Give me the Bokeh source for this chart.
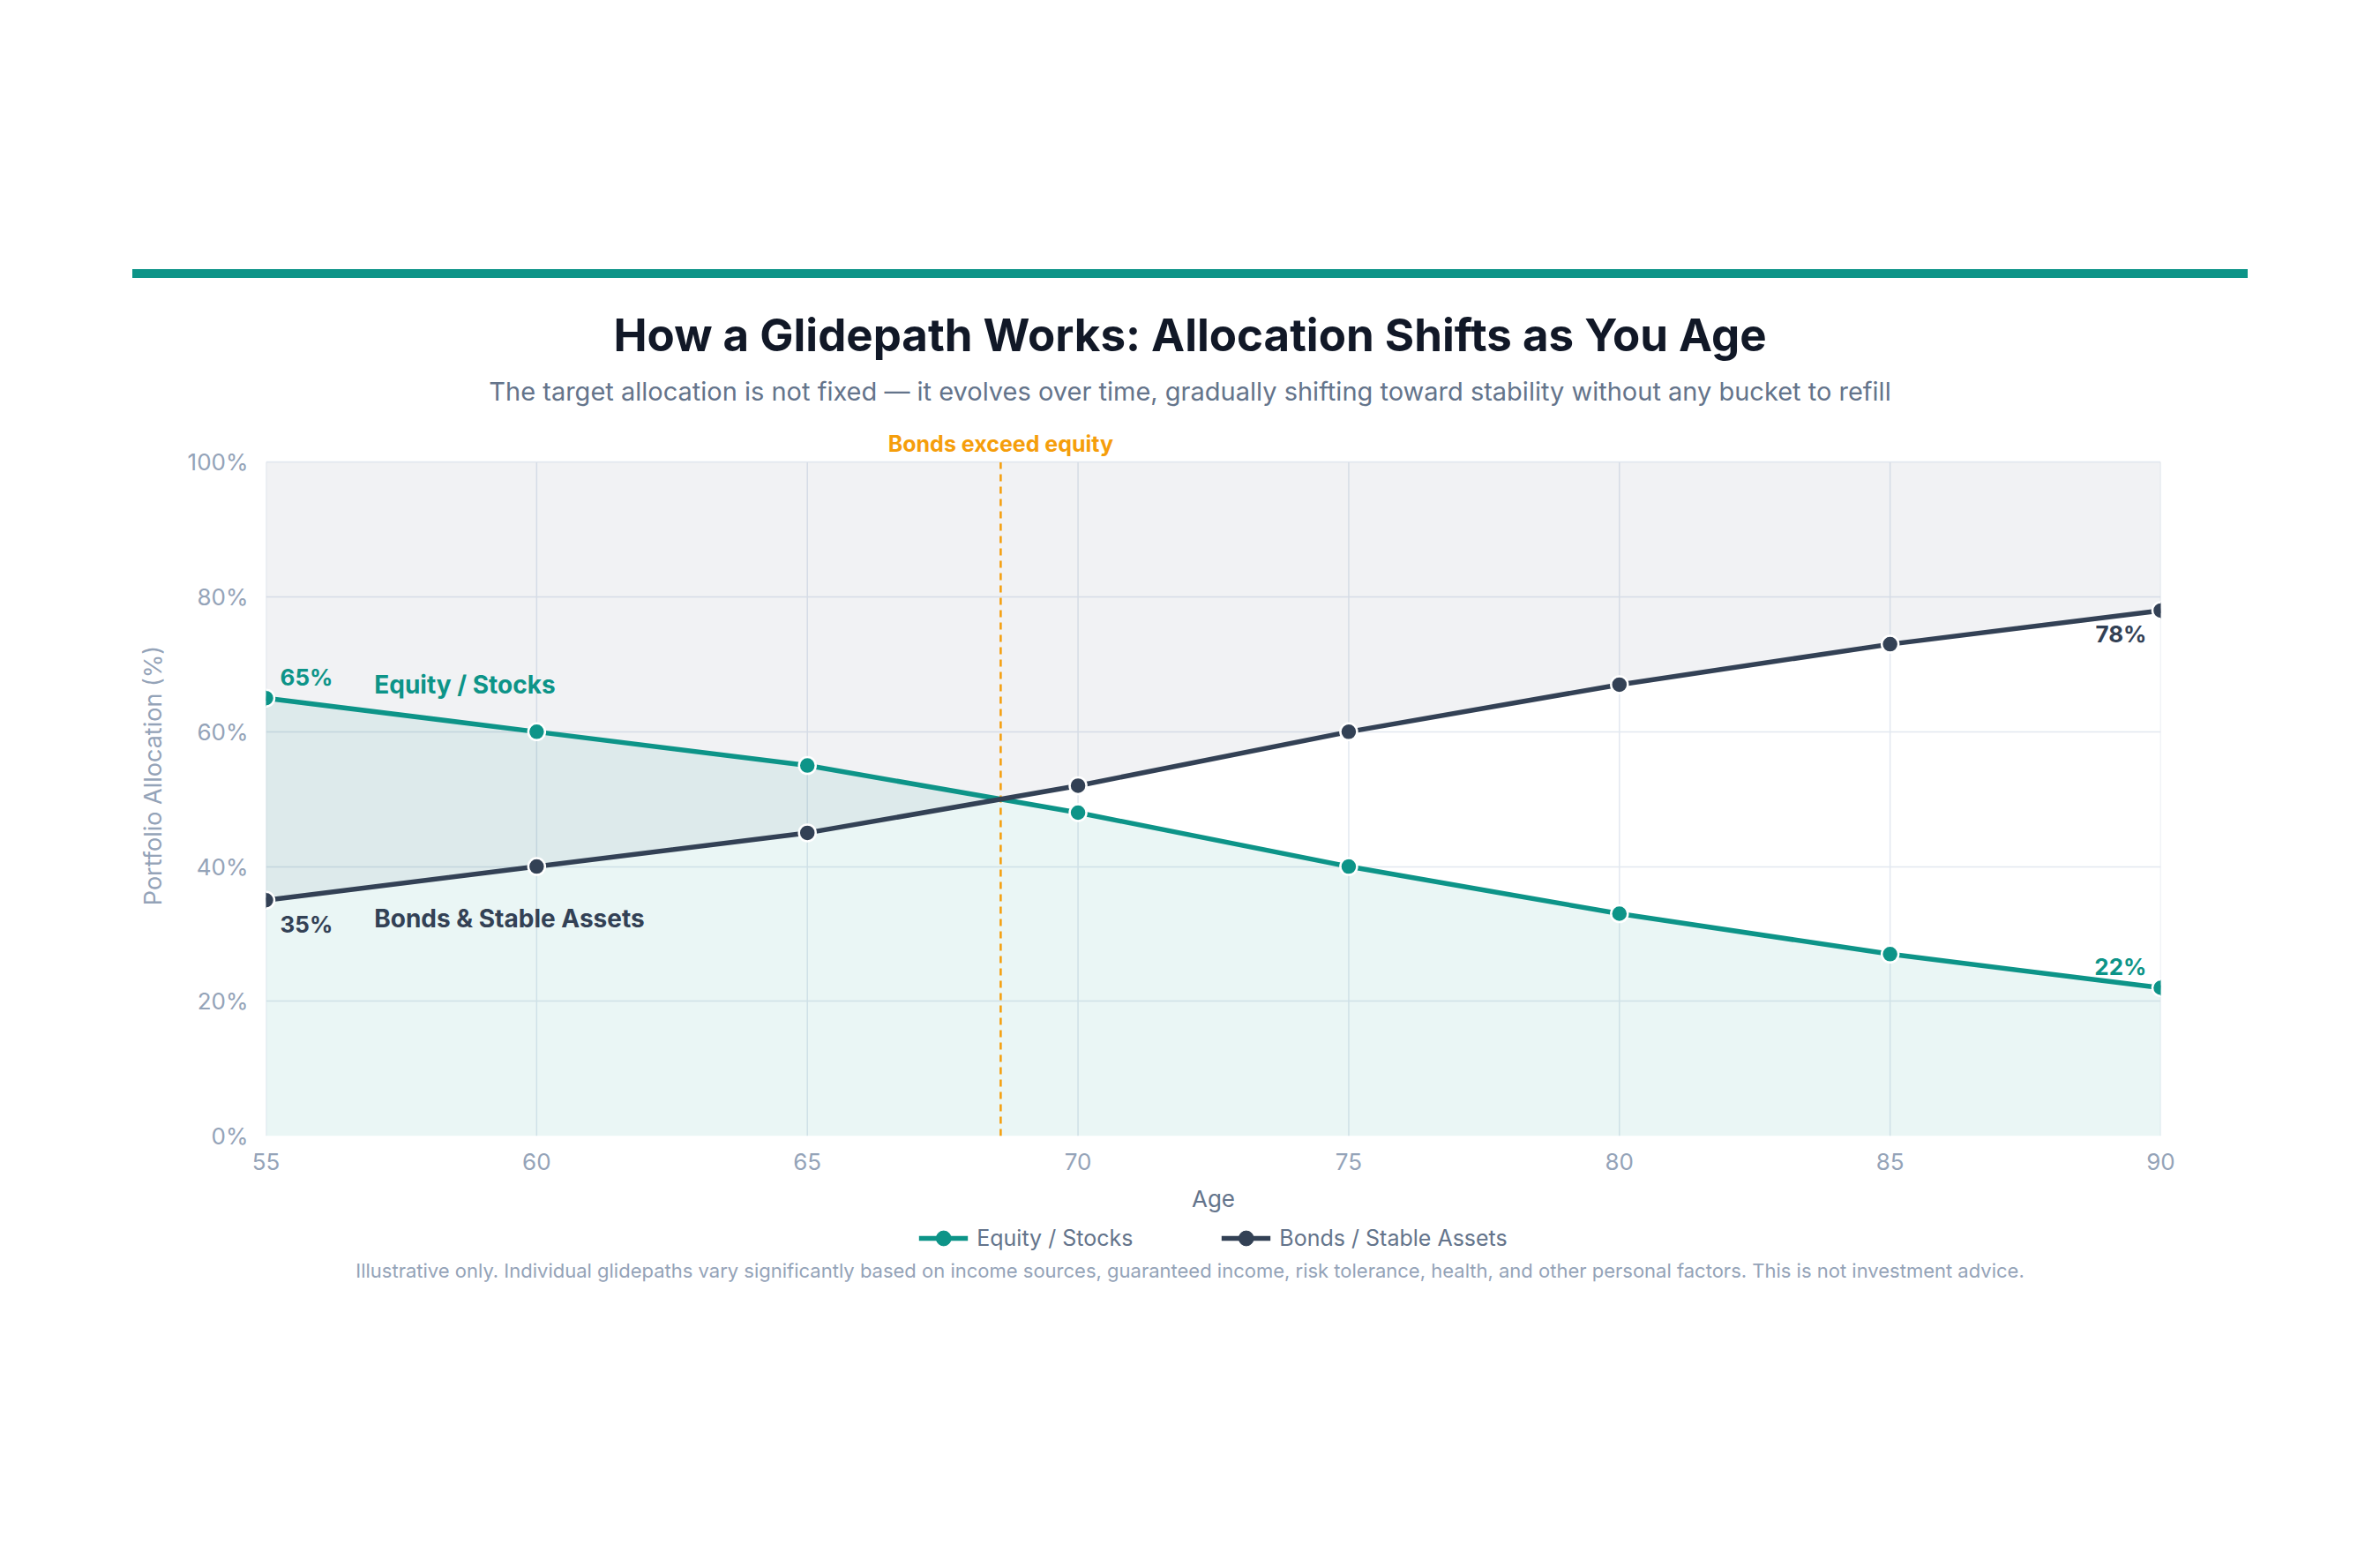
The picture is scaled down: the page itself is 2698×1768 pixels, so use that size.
from bokeh.plotting import figure
from bokeh.models import (Legend, LegendItem, Div, FixedTicker, PrintfTickFormatter, Range1d)
from bokeh.layouts import column
from bokeh.embed import file_html
from bokeh.resources import INLINE
from bokeh.core.properties import value

# Glidepath data: target allocation (%) by age
ages = [55, 60, 65, 70, 75, 80, 85, 90]
equity = [65, 60, 55, 48, 40, 33, 27, 22]
bonds = [35, 40, 45, 52, 60, 67, 73, 78]
y_ticks = [0, 20, 40, 60, 80, 100]
series_names = ["Equity / Stocks", "Bonds / Stable Assets"]

TITLE = "How a Glidepath Works: Allocation Shifts as You Age"
SUBTITLE = ("The target allocation is not fixed \u2014 it evolves over time, gradually "
            "shifting toward stability without any bucket to refill")
FOOTNOTE = ("Illustrative only. Individual glidepaths vary significantly based on income sources, "
            "guaranteed income, risk tolerance, health, and other personal factors. "
            "This is not investment advice.")

TEAL = "#0d9488"
SLATE = "#334155"
AMBER = "#f59e0b"
GRID = "#e2e8f0"
FONT = "Inter"

# Age where the bond share first overtakes equity (linear between points)
cross_age = None
for i in range(1, len(ages)):
    d0 = equity[i - 1] - bonds[i - 1]
    d1 = equity[i] - bonds[i]
    if d0 > 0 >= d1:
        cross_age = ages[i - 1] + (ages[i] - ages[i - 1]) * d0 / (d0 - d1)
        break

Y_TOP = 100      # allocation ceiling
Y_HEAD = 107     # headroom above the ceiling for the crossover caption

p = figure(
    width=2698, height=918,
    x_range=Range1d(ages[0], ages[-1]), y_range=Range1d(0, Y_HEAD),
    output_backend="svg", toolbar_location=None, title=None,
    min_border_left=301, min_border_right=249,
    min_border_top=6, min_border_bottom=95,
    background_fill_color="white", border_fill_color="white",
)
p.outline_line_color = None
p.margin = (0, 0, 0, 0)

# Vertical grid lines stop at the 100% ceiling
p.segment(x0=ages, y0=[0] * len(ages), x1=ages, y1=[Y_TOP] * len(ages),
          line_color=GRID, line_width=1.5)
p.xgrid.visible = False
p.ygrid.grid_line_color = GRID
p.ygrid.grid_line_width = 1.5

# Shaded regions: bonds from line to the ceiling, equity from zero to line
p.varea(x=ages, y1=bonds, y2=[Y_TOP] * len(ages), fill_color=SLATE, fill_alpha=0.065)
p.varea(x=ages, y1=[0] * len(ages), y2=equity, fill_color=TEAL, fill_alpha=0.085)

# Crossover marker and caption
p.segment(x0=[cross_age], y0=[0], x1=[cross_age], y1=[Y_TOP],
          line_color=AMBER, line_width=2.5, line_dash="8 6")
p.text(x=[cross_age], y=[Y_TOP], text=["Bonds exceed equity"], y_offset=-21,
       text_align="center", text_baseline="middle", text_font=value(FONT),
       text_font_size="25px", text_font_style="bold", text_color=AMBER)

p.line(ages, equity, line_color=TEAL, line_width=5.5)
p.scatter(ages, equity, size=19, fill_color=TEAL, line_color="white", line_width=2.5)
p.line(ages, bonds, line_color=SLATE, line_width=5.5)
p.scatter(ages, bonds, size=19, fill_color=SLATE, line_color="white", line_width=2.5)

# Start / end value labels
def pct_label(x, y, color, align, dx, dy):
    p.text(x=[x], y=[y], text=[f"{y}%"], x_offset=dx, y_offset=dy,
           text_align=align, text_baseline="middle", text_font=value(FONT),
           text_font_size="26px", text_font_style="bold", text_color=color)

pct_label(ages[0], equity[0], TEAL, "left", 16, -24)
pct_label(ages[0], bonds[0], SLATE, "left", 16, 27)
pct_label(ages[-1], bonds[-1], SLATE, "right", -16, 27)
pct_label(ages[-1], equity[-1], TEAL, "right", -16, -24)

# Series name labels
p.text(x=[57], y=[67], text=["Equity / Stocks"], text_align="left", text_baseline="middle",
       text_font=value(FONT), text_font_size="28px", text_font_style="bold", text_color=TEAL)
p.text(x=[57], y=[32.3], text=["Bonds & Stable Assets"], text_align="left", text_baseline="middle",
       text_font=value(FONT), text_font_size="28px", text_font_style="bold", text_color=SLATE)

# Axes
p.xaxis.ticker = FixedTicker(ticks=ages)
p.yaxis.ticker = FixedTicker(ticks=y_ticks)
p.yaxis.formatter = PrintfTickFormatter(format="%d%%")
for ax in (p.xaxis, p.yaxis):
    ax.axis_line_color = None
    ax.major_tick_line_color = None
    ax.minor_tick_line_color = None
    ax.major_tick_out = 0
    ax.major_tick_in = 0
    ax.minor_tick_out = 0
    ax.major_label_text_font = FONT
    ax.major_label_text_font_size = "26px"
    ax.major_label_text_color = "#94a3b8"
    ax.axis_label_text_font = FONT
    ax.axis_label_text_font_style = "normal"
p.xaxis.major_label_standoff = 19
p.yaxis.major_label_standoff = 20
p.xaxis.axis_label = "Age"
p.xaxis.axis_label_text_font_size = "26px"
p.xaxis.axis_label_text_color = "#64748b"
p.xaxis.axis_label_standoff = 14
p.yaxis.axis_label = "Portfolio Allocation (%)"
p.yaxis.axis_label_text_font_size = "27px"
p.yaxis.axis_label_text_color = "#94a3b8"
p.yaxis.axis_label_standoff = 20

# Legend strip under the chart; its sample glyphs sit outside the strip's view
lg = figure(width=2698, height=42, x_range=Range1d(0, 1), y_range=Range1d(0, 1),
            x_axis_type=None, y_axis_type=None, output_backend="svg",
            toolbar_location=None, title=None,
            min_border_left=295, min_border_right=249, min_border_top=0, min_border_bottom=0,
            background_fill_color="white", border_fill_color="white")
lg.outline_line_color = None
lg.grid.visible = False
lg.margin = (0, 0, 0, 0)
items = []
for name, vals, color in zip(series_names, [equity, bonds], [TEAL, SLATE]):
    r_line = lg.line(ages, vals, line_color=color, line_width=5.5)
    r_pt = lg.scatter(ages, vals, fill_color=color, line_color=color, line_width=1)
    items.append(LegendItem(label=name, renderers=[r_line, r_pt]))
legend = Legend(items=items, orientation="horizontal", location="center",
                glyph_width=56, glyph_height=42, label_standoff=10, spacing=100,
                padding=0, margin=0, border_line_alpha=0, background_fill_alpha=0,
                label_text_font=FONT, label_text_font_size="25px",
                label_text_color="#64748b", label_text_baseline="middle")
lg.add_layout(legend, "center")

# Page furniture around the chart
def text_div(text, height, top, size, weight, color):
    return Div(text=text, width=2398, height=height, margin=(top, 0, 0, 150),
               styles={"font-family": FONT, "font-size": f"{size}px", "font-weight": weight,
                       "color": color, "text-align": "center", "line-height": f"{height}px",
                       "white-space": "nowrap"})

bar = Div(width=2398, height=10, margin=(305, 0, 0, 150), styles={"background-color": TEAL})
title_div = text_div(TITLE, 60, 35, 51, "700", "#111827")
subtitle_div = text_div(SUBTITLE, 40, 14, 29, "400", "#64748b")
foot_div = text_div(FOOTNOTE, 30, 1, 22, "400", "#94a3b8")

layout = column(bar, title_div, subtitle_div, p, lg, foot_div, spacing=0)
open("out.html", "w").write(file_html(layout, INLINE))
